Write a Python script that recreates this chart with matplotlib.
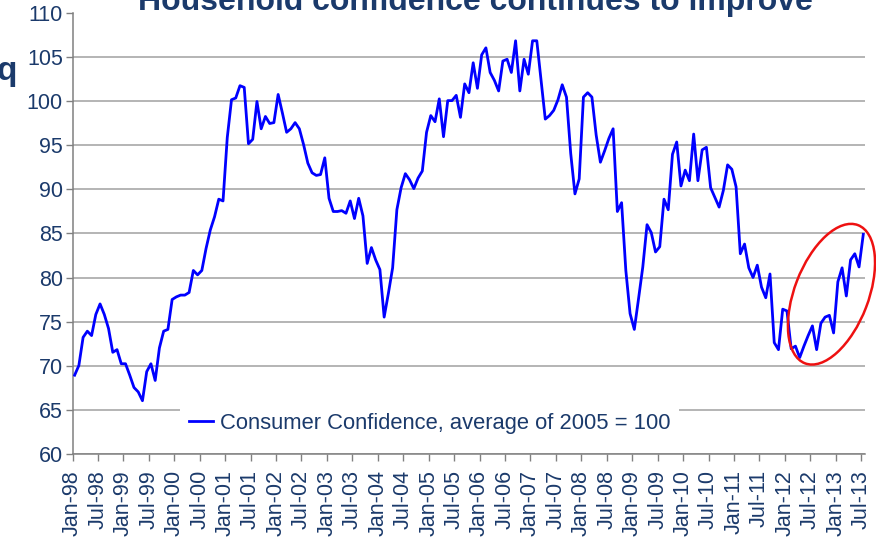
import matplotlib
matplotlib.use('Agg')
import matplotlib.pyplot as plt
import matplotlib.transforms as mtransforms
from matplotlib.patches import Ellipse
import numpy as np

title = 'Household confidence continues to improve'
series_label = 'Consumer Confidence, average of 2005 = 100'

# Monthly consumer confidence, Jan-98 .. Jul-13
values = [
    68.9, 70.0, 73.2, 73.9, 73.4, 75.8, 77.0, 75.8, 74.2, 71.5, 71.8, 70.2,   # 1998
    70.2, 68.9, 67.5, 67.0, 66.0, 69.3, 70.2, 68.3, 72.0, 73.9, 74.1, 77.5,   # 1999
    77.8, 78.0, 78.0, 78.3, 80.8, 80.3, 80.8, 83.3, 85.4, 86.9, 88.9, 88.7,   # 2000
    95.9, 100.2, 100.4, 101.8, 101.6, 95.2, 95.7, 100.0, 96.9, 98.3, 97.5, 97.6,  # 2001
    100.8, 98.7, 96.5, 96.9, 97.6, 96.9, 95.1, 93.0, 91.9, 91.6, 91.7, 93.6,  # 2002
    89.0, 87.5, 87.5, 87.6, 87.3, 88.7, 86.7, 89.0, 87.0, 81.6, 83.4, 82.0,   # 2003
    80.9, 75.5, 78.2, 81.1, 87.7, 90.2, 91.8, 91.1, 90.1, 91.3, 92.1, 96.5,   # 2004
    98.4, 97.7, 100.3, 96.0, 100.1, 100.1, 100.7, 98.2, 102.0, 101.0, 104.4, 101.5,  # 2005
    105.3, 106.1, 103.3, 102.4, 101.2, 104.6, 104.8, 103.3, 106.9, 101.2, 104.8, 103.1,  # 2006
    106.9, 106.9, 102.5, 98.0, 98.4, 99.0, 100.2, 101.9, 100.5, 94.1, 89.5, 91.2,  # 2007
    100.5, 101.0, 100.5, 96.2, 93.1, 94.4, 95.8, 96.9, 87.5, 88.5, 80.8, 75.9,  # 2008
    74.1, 77.6, 81.2, 86.0, 85.1, 82.9, 83.5, 88.9, 87.7, 94.0, 95.4, 90.4,   # 2009
    92.2, 91.0, 96.3, 91.0, 94.5, 94.8, 90.2, 89.1, 88.0, 89.9, 92.8, 92.3,   # 2010
    90.3, 82.7, 83.8, 81.1, 80.0, 81.4, 78.9, 77.7, 80.4, 72.6, 71.8, 76.4,   # 2011
    76.2, 71.9, 72.2, 70.9, 72.2, 73.4, 74.5, 71.8, 74.8, 75.5, 75.7, 73.7,   # 2012
    79.5, 81.1, 77.9, 82.0, 82.7, 81.2, 84.9,                                 # 2013
]

tick_labels = []
for yy in range(98, 114):
    for mm in ['Jan', 'Jul']:
        tick_labels.append(f'{mm}-{yy % 100:02d}')
tick_labels = tick_labels[:32]

y_ticks = list(range(60, 111, 5))

navy = '#1B3A6B'
plt.rcParams['font.family'] = ['Liberation Sans', 'DejaVu Sans']

W, H = 876, 542
fig = plt.figure(figsize=(W / 100, H / 100), dpi=100)
left_px, right_px, top_px, bottom_px = 72.5, 865.4, 13.5, 453.5
ax = fig.add_axes([left_px / W, 1 - bottom_px / H,
                   (right_px - left_px) / W, (bottom_px - top_px) / H])

x = np.arange(len(values))
ax.plot(x, values, color='#0000FF', lw=2.0, label=series_label, zorder=3,
        solid_joinstyle='round')

ax.set_xlim(-0.5, len(values) - 0.5)
ax.set_ylim(60, 110)
ax.set_yticks(y_ticks)
ax.set_yticklabels([str(v) for v in y_ticks])
ax.set_xticks(np.arange(len(tick_labels)) * 6 - 0.5)
ax.set_xticklabels(tick_labels, rotation=90)

ax.grid(axis='y', color='#A0A0A0', lw=1.1)
ax.set_axisbelow(True)
for s in ['top', 'right']:
    ax.spines[s].set_visible(False)
for s in ['left', 'bottom']:
    ax.spines[s].set_color('#808080')
    ax.spines[s].set_linewidth(1.1)
ax.tick_params(axis='both', colors='#808080', labelcolor=navy, length=5,
               width=1.0, labelsize=15.5, direction='out')
ax.tick_params(axis='y', pad=2)
ax.tick_params(axis='x', pad=7)

leg = ax.legend(loc='center left', bbox_to_anchor=(180 / W, 1 - 423 / H),
                bbox_transform=fig.transFigure, frameon=True, fancybox=False,
                facecolor='white', edgecolor='none', framealpha=1,
                fontsize=15.8, handlelength=1.1, handletextpad=0.3,
                borderpad=0.4, borderaxespad=0)
for t in leg.get_texts():
    t.set_color(navy)

# red ellipse highlighting the recent improvement
trans = mtransforms.ScaledTranslation(178.5, 78.1, ax.transData)
ell = Ellipse((0, 0), width=148, height=74, angle=69, transform=trans,
              fill=False, edgecolor='#EE1111', lw=1.8, clip_on=False, zorder=5)
fig.add_artist(ell)

fig.text(475 / W, 1 - 10 / H, title, ha='center', va='baseline',
         fontsize=23, fontweight='bold', color=navy)
fig.text(-3 / W, 1 - 80 / H, 'q', ha='left', va='baseline',
         fontsize=24, fontweight='bold', color=navy)

fig.savefig('out.png', dpi=100)
